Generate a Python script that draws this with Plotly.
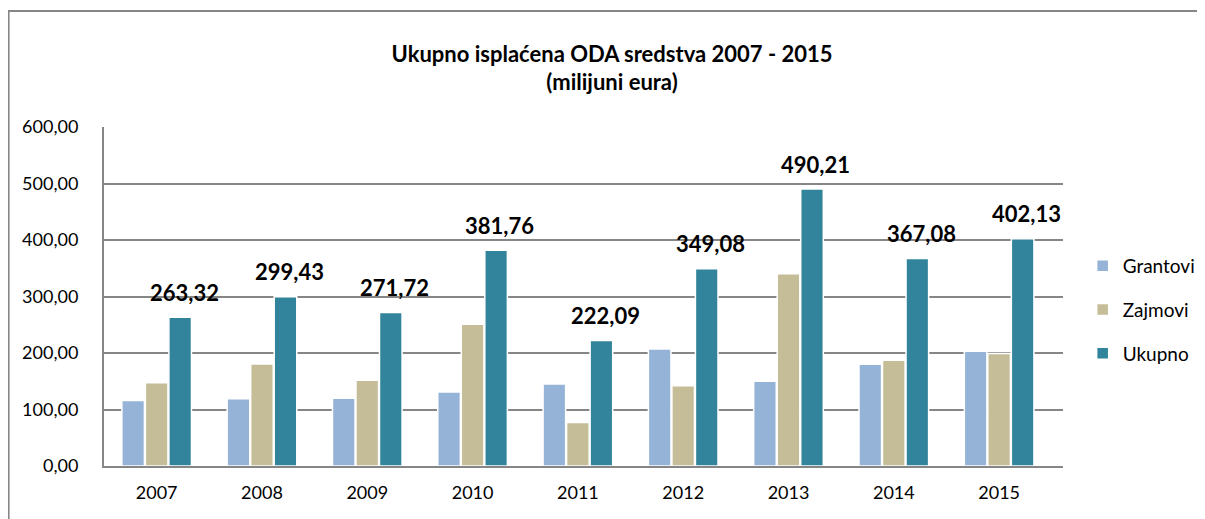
import plotly.graph_objects as go

years = ["2007", "2008", "2009", "2010", "2011", "2012", "2013", "2014", "2015"]
grantovi = [116.0, 119.0, 120.0, 131.0, 145.0, 207.0, 150.0, 180.0, 203.0]
zajmovi = [147.3, 180.4, 151.7, 250.8, 77.1, 142.1, 340.2, 187.1, 199.1]
ukupno = [263.32, 299.43, 271.72, 381.76, 222.09, 349.08, 490.21, 367.08, 402.13]
y_ticks = [0, 100, 200, 300, 400, 500, 600]

FONT = "Lato, 'Open Sans', sans-serif"
line_w = dict(color="white", width=1.5)

fig = go.Figure()
fig.add_trace(go.Bar(name="Grantovi", x=years, y=grantovi, legendgroup="g1",
                     marker=dict(color="#95B3D7", line=line_w)))
fig.add_trace(go.Bar(name="Zajmovi", x=years, y=zajmovi, legendgroup="g2",
                     marker=dict(color="#C4BD97", line=line_w)))
fig.add_trace(go.Bar(name="Ukupno", x=years, y=ukupno, legendgroup="g3",
                     marker=dict(color="#31849B", line=line_w)))

annotations = []
bar_offset = 0.26
for i, v in enumerate(ukupno):
    annotations.append(dict(
        x=i + bar_offset, y=v, xref="x", yref="y", yshift=25,
        text=f"{v:.2f}".replace(".", ","), showarrow=False,
        font=dict(family=FONT, size=22, color="black", weight="bold"),
        xanchor="center", yanchor="middle"))

# page body has an 8px margin; margins compensate so the plot area sits at 104..1079 x 127..466
OFF = 8
fig.update_layout(
    width=1205, height=519,
    margin=dict(l=104 - OFF, r=126 + OFF, t=127 - OFF, b=53 + OFF),
    paper_bgcolor="white", plot_bgcolor="white",
    barmode="group", bargap=0.33, bargroupgap=0.04,
    separators=",.",
    title=dict(text="<b>Ukupno isplaćena ODA sredstva 2007 - 2015<br>(milijuni eura)</b>",
               x=(612 - OFF) / 1205, xanchor="center",
               y=1 - (61.5 - OFF) / 519, yanchor="middle",
               font=dict(family=FONT, size=22, color="black")),
    font=dict(family=FONT, size=18, color="black"),
    legend=dict(x=(1099 - 104) / 975, y=(466 - 310) / 339, xanchor="left", yanchor="middle",
                font=dict(family=FONT, size=19, color="black"),
                itemwidth=30, tracegroupgap=16, bgcolor="rgba(0,0,0,0)"),
    annotations=annotations,
    shapes=[dict(type="rect", xref="paper", yref="paper",
                 x0=(7 - 104) / 975, x1=(1230 - 104) / 975,
                 y0=(466 - 540) / 339, y1=(466 - 11) / 339,
                 line=dict(color="#868686", width=2), layer="below")],
)
fig.update_xaxes(type="category", showline=True, linecolor="#868686", linewidth=2,
                 ticks="", tickfont=dict(family=FONT, size=18), ticklabelstandoff=9)
fig.update_yaxes(range=[0, 600], tickvals=y_ticks, tickformat=".2f",
                 showgrid=True, gridcolor="#868686", gridwidth=2,
                 showline=True, linecolor="#868686", linewidth=2,
                 zeroline=False, ticks="", tickfont=dict(family=FONT, size=18),
                 ticklabelstandoff=20)

fig.write_html("out.html")
